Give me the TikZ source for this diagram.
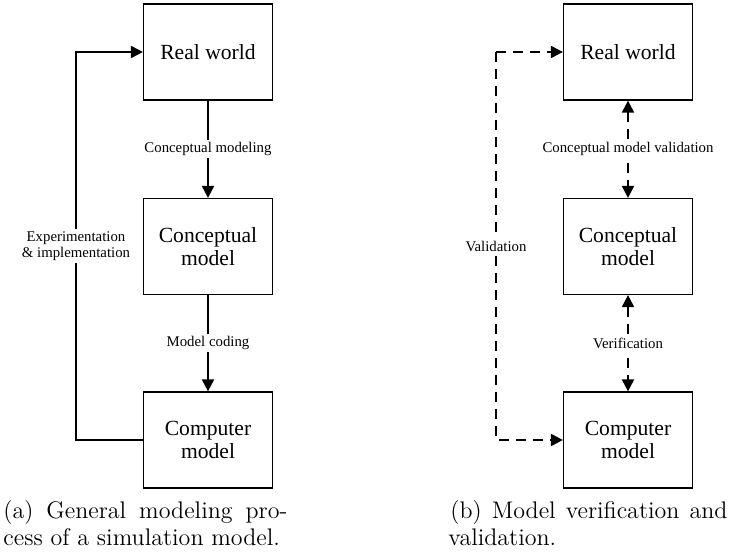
\documentclass[tikz,border=0pt]{standalone}
\usepackage{fontspec}
\newfontfamily\boxfont{Liberation Serif}
\usetikzlibrary{arrows.meta}

\tikzset{
  block/.style={draw, line width=0.6pt, minimum width=64.5pt, minimum height=48pt,
    inner sep=0pt, align=center, font=\boxfont\fontsize{10.8}{11.7}\selectfont},
  lbl/.style={fill=white, inner sep=1.2pt, align=center,
    font=\boxfont\fontsize{7.4}{8.3}\selectfont},
  head/.style={-{Triangle[length=6pt,width=6pt]}},
  both/.style={{Triangle[length=6pt,width=6pt]}-{Triangle[length=6pt,width=6pt]}},
  conn/.style={line width=1pt, head},
  dconn/.style={line width=1pt, dash pattern=on 5pt off 3.5pt},
  capline/.style={anchor=base west, inner sep=0pt, font=\fontsize{12}{13}\selectfont}
}

\begin{document}
\begin{tikzpicture}[x=0.5pt, y=-0.5pt]
\useasboundingbox (0,0) rectangle (733,555);

% (a) general modeling process
\node[block] (rw) at (208,52) {Real world};
\node[block] (cm) at (208,246.5) {Conceptual\\model};
\node[block] (pc) at (208,440) {Computer\\model};

\draw[conn] (rw.south) -- node[lbl] {Conceptual modeling} (cm.north);
\draw[conn] (cm.south) -- node[lbl] {Model coding} (pc.north);

\coordinate (fa) at (76,440);
\coordinate (fb) at (76,52);
\draw[conn] (pc.west) -- (fa) -- node[lbl] {Experimentation\\\& implementation} (fb) -- (rw.west);

\node[capline] (capa1) at (3,518) {\makebox[142pt][s]{(a) General modeling pro-}};
\node[capline] (capa2) at (3,545) {cess of a simulation model.};

% (b) verification and validation
\node[block] (rw2) at (628,52) {Real world};
\node[block] (cm2) at (628,246.5) {Conceptual\\model};
\node[block] (pc2) at (628,440) {Computer\\model};

\draw[dconn, both] (rw2.south) -- node[lbl] {Conceptual model validation} (cm2.north);
\draw[dconn, both] (cm2.south) -- node[lbl] {Verification} (pc2.north);

\coordinate (va) at (496,440);
\coordinate (vb) at (496,52);
\draw[dconn, head] (vb) -- (rw2.west);
\draw[dconn, head] (vb) -- node[lbl, pos=0.5] {Validation} (va) -- (pc2.west);

\node[capline] (capb1) at (450,518) {\makebox[138.5pt][s]{(b) Model verification and}};
\node[capline] (capb2) at (448,545) {validation.};
\end{tikzpicture}
\end{document}
